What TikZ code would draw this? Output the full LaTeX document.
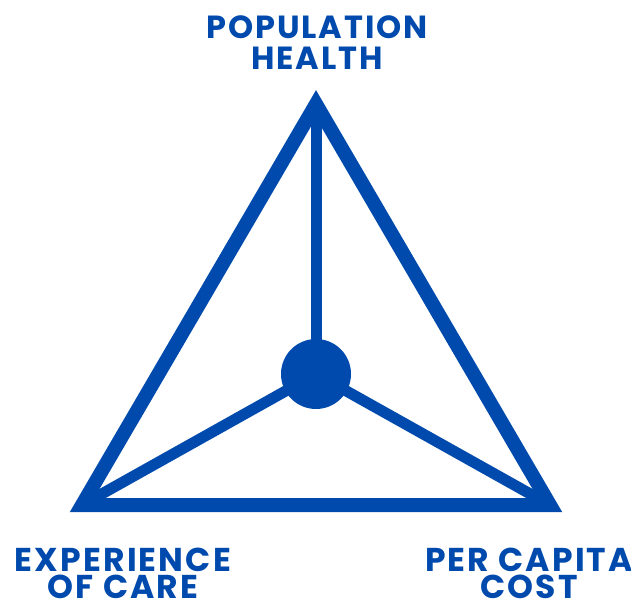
\documentclass[tikz,border=0pt]{standalone}
\usepackage{fontspec}
\setmainfont{Poppins}
\definecolor{cobalt}{HTML}{004AAD}
\begin{document}
\begin{tikzpicture}[x=1pt,y=-1pt,
  frame/.style={draw=cobalt,line width=14pt,line join=miter},
  spoke/.style={draw=cobalt,line width=11pt},
  lbl/.style={text=cobalt,font=\fontsize{32}{32}\selectfont\bfseries\addfontfeatures{LetterSpace=6},anchor=base,inner sep=0pt},
  lblb/.style={lbl,font=\fontsize{33}{33}\selectfont\bfseries\addfontfeatures{LetterSpace=6.5}}]
\useasboundingbox (0,0) rectangle (631,601);
\coordinate (A) at (316,104);
\coordinate (B) at (82,505);
\coordinate (C) at (550,505);
\node[circle,fill=cobalt,minimum size=70pt,inner sep=0pt] (O) at (316,374) {};
\draw[spoke] (A) -- (O.center);
\draw[spoke] (B) -- (O.center);
\draw[spoke] (C) -- (O.center);
\draw[frame] (A) -- (B) -- (C) -- cycle;
\node[lbl] (t1) at (317,39) {POPULATION};
\node[lbl] (t2) at (317,70) {HEALTH};
\node[lblb] (l1) at (123,571) {EXPERIENCE};
\node[lblb] (l2) at (123,598) {OF CARE};
\node[lblb] (r1) at (529,571) {PER CAPITA};
\node[lblb] (r2) at (529,598) {COST};
\end{tikzpicture}
\end{document}
